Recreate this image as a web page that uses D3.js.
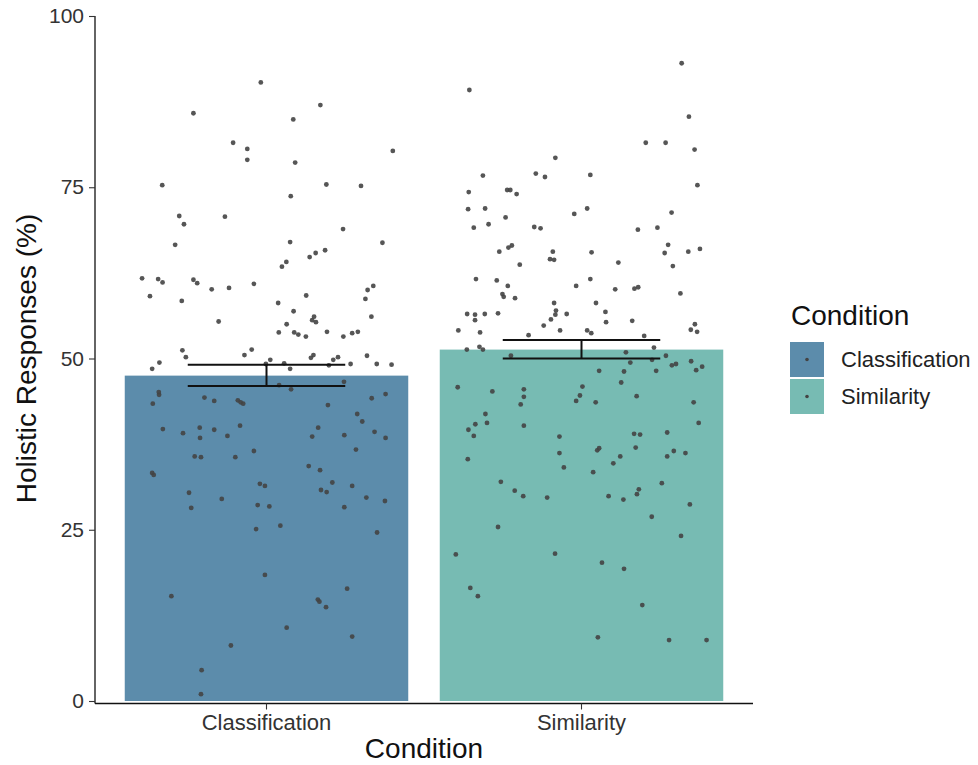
<!DOCTYPE html>
<html>
<head>
<meta charset="utf-8">
<script src="https://cdn.jsdelivr.net/npm/d3@7"></script>
<style>
  body { margin: 0; background: #fff; }
  svg { font-family: "Liberation Sans", Arial, sans-serif; }
</style>
</head>
<body>
<div id="chart"></div>
<script>
// categories and summary values
const CATEGORIES = ["Classification", "Similarity"];
const MEANS = [47.5, 51.3];
const ERR_LOW = [46.0, 50.0];
const ERR_HIGH = [49.1, 52.7];
const COLORS = ["#5c8cab", "#77bbb3"];
const Y_TICKS = [0, 25, 50, 75, 100];

// individual participants: [jitter offset (band steps), value %]
const CLASSIFICATION_POINTS = [
  [-0.018, 90.3], [0.171, 87.0], [-0.232, 85.8], [0.085, 84.9], [-0.106, 81.5],
  [-0.061, 80.6], [-0.061, 79.0], [0.091, 78.6], [0.401, 80.3], [-0.331, 75.3],
  [0.190, 75.4], [0.300, 75.2], [0.077, 73.7], [-0.277, 70.8], [-0.262, 69.6],
  [-0.132, 70.7], [0.243, 68.9], [-0.290, 66.6], [0.075, 67.0], [0.368, 66.9],
  [0.186, 65.8], [0.156, 65.4], [0.137, 64.8], [0.063, 64.1], [0.049, 63.4],
  [-0.395, 61.7], [-0.344, 61.6], [-0.330, 61.1], [-0.232, 61.5], [-0.220, 61.0],
  [-0.174, 60.1], [-0.119, 60.3], [-0.040, 60.9], [-0.370, 59.1], [-0.269, 58.4],
  [0.037, 58.1], [0.126, 59.2], [0.321, 60.0], [0.339, 60.6], [0.314, 58.7],
  [0.086, 56.9], [-0.152, 55.4], [0.064, 55.0], [0.151, 56.1], [0.145, 55.6],
  [0.157, 55.3], [0.333, 56.1], [0.039, 53.8], [0.088, 53.8], [0.101, 53.5],
  [0.125, 53.2], [0.192, 53.9], [0.244, 53.2], [0.272, 53.7], [0.290, 53.9],
  [-0.267, 51.2], [-0.256, 50.2], [-0.070, 50.5], [-0.047, 51.3], [-0.363, 48.5],
  [-0.340, 49.4], [-0.002, 49.2], [0.012, 49.8], [0.056, 49.3], [0.075, 48.5],
  [0.141, 50.1], [0.149, 50.5], [0.198, 49.0], [0.212, 49.8], [0.227, 50.2],
  [0.267, 49.2], [0.319, 50.4], [0.350, 49.2], [0.397, 49.1], [0.246, 46.6],
  [0.040, 46.1], [0.078, 45.5], [-0.342, 45.1], [-0.341, 44.7], [-0.361, 43.4],
  [-0.197, 44.3], [-0.166, 43.8], [-0.091, 43.9], [-0.082, 43.6], [-0.074, 43.4],
  [0.195, 43.2], [0.334, 44.2], [0.378, 44.8], [0.288, 41.9], [0.304, 40.8],
  [-0.329, 39.7], [-0.265, 39.1], [-0.212, 39.9], [-0.211, 38.4], [-0.166, 39.6],
  [-0.124, 38.7], [-0.084, 40.2], [0.164, 39.9], [0.145, 38.6], [0.247, 38.8],
  [0.343, 39.3], [0.378, 38.4], [-0.228, 35.7], [-0.208, 35.6], [-0.099, 35.6],
  [-0.040, 36.5], [0.284, 36.7], [-0.363, 33.3], [-0.358, 33.0], [0.134, 34.3],
  [0.170, 33.7], [-0.021, 31.7], [-0.005, 31.4], [0.209, 31.9], [0.272, 31.4],
  [-0.246, 30.4], [-0.142, 29.5], [-0.239, 28.2], [-0.028, 28.6], [0.009, 28.4],
  [0.173, 30.8], [0.191, 30.5], [0.317, 29.7], [0.376, 29.2], [0.247, 28.3],
  [-0.033, 25.1], [0.044, 25.6], [0.351, 24.6], [-0.005, 18.4], [-0.302, 15.3],
  [0.256, 16.4], [0.163, 14.8], [0.168, 14.5], [0.189, 13.7], [0.064, 10.7],
  [0.272, 9.4], [-0.113, 8.1], [-0.206, 4.5], [-0.208, 1.0]
];

const SIMILARITY_POINTS = [
  [0.318, 93.1], [-0.356, 89.2], [0.341, 85.3], [0.204, 81.5], [0.267, 81.5],
  [0.359, 80.5], [-0.083, 79.3], [-0.313, 76.7], [-0.145, 77.0], [-0.116, 76.5],
  [0.028, 76.8], [0.368, 75.3], [-0.358, 74.3], [-0.236, 74.6], [-0.226, 74.6],
  [-0.206, 74.0], [-0.360, 71.8], [-0.306, 71.9], [-0.241, 70.6], [-0.023, 71.1],
  [0.018, 71.9], [0.286, 71.3], [-0.342, 69.1], [-0.295, 69.6], [-0.150, 69.2],
  [-0.130, 69.0], [0.179, 68.8], [0.241, 69.1], [-0.261, 65.6], [-0.232, 66.2],
  [-0.221, 66.5], [-0.196, 63.7], [-0.091, 65.6], [-0.100, 64.5], [-0.087, 64.4],
  [0.032, 65.5], [0.117, 64.0], [0.275, 66.6], [0.264, 65.4], [0.339, 65.6],
  [0.376, 66.0], [0.290, 63.5], [-0.335, 61.6], [-0.269, 61.4], [0.028, 61.6],
  [-0.234, 60.6], [-0.251, 59.4], [-0.247, 59.0], [-0.211, 58.8], [-0.017, 60.6],
  [0.107, 60.1], [0.168, 60.2], [0.180, 60.4], [0.314, 59.5], [-0.363, 56.5],
  [-0.338, 56.4], [-0.338, 55.6], [-0.307, 56.5], [-0.265, 56.6], [-0.087, 58.1],
  [-0.081, 57.0], [-0.083, 56.4], [-0.097, 55.7], [-0.047, 56.5], [0.046, 58.1],
  [0.076, 56.8], [0.078, 55.3], [0.161, 55.5], [-0.391, 54.1], [-0.322, 53.8],
  [-0.120, 54.8], [-0.068, 54.1], [0.018, 54.1], [0.031, 53.7], [-0.168, 53.4],
  [0.199, 53.3], [0.360, 55.0], [0.347, 54.2], [0.367, 53.9], [-0.364, 51.3],
  [-0.324, 51.7], [-0.313, 51.3], [-0.224, 50.4], [0.230, 51.6], [0.141, 50.9],
  [0.155, 49.4], [0.224, 49.8], [0.268, 50.4], [0.287, 49.0], [0.300, 49.2],
  [0.348, 49.6], [0.364, 48.3], [0.383, 48.8], [0.237, 48.2], [0.056, 48.2],
  [0.135, 48.1], [0.126, 46.5], [-0.393, 45.8], [-0.283, 45.2], [-0.183, 45.5],
  [-0.183, 44.4], [-0.193, 43.3], [0.003, 45.9], [-0.005, 44.6], [-0.017, 43.8],
  [0.045, 43.6], [0.175, 44.5], [0.356, 43.6], [-0.305, 41.9], [-0.300, 40.6],
  [-0.337, 40.4], [-0.359, 39.6], [-0.342, 38.7], [-0.183, 40.2], [0.372, 40.6],
  [0.167, 39.0], [0.186, 38.9], [0.272, 39.2], [-0.070, 38.6], [-0.070, 36.2],
  [0.056, 36.9], [0.050, 36.6], [0.172, 37.0], [0.123, 35.7], [0.101, 34.7],
  [0.293, 36.5], [0.272, 35.7], [0.330, 36.2], [-0.361, 35.3], [-0.056, 34.1],
  [0.037, 33.4], [-0.256, 32.0], [0.255, 31.8], [-0.212, 30.7], [-0.185, 29.9],
  [-0.109, 29.7], [0.086, 29.9], [0.133, 29.4], [0.182, 30.9], [0.176, 30.2],
  [0.344, 28.7], [0.223, 26.9], [-0.265, 25.4], [0.316, 24.1], [-0.399, 21.4],
  [-0.084, 21.5], [0.065, 20.2], [0.135, 19.3], [-0.353, 16.5], [-0.329, 15.3],
  [0.193, 14.0], [0.052, 9.3], [0.278, 8.9], [0.397, 8.9]
];

const POINTS = [CLASSIFICATION_POINTS, SIMILARITY_POINTS];

// LAYOUT
const WIDTH = 978, HEIGHT = 765;
const PANEL = { left: 95, right: 753, top: 16, bottom: 701 };
const FONT = "Liberation Sans, Arial, sans-serif";

const SVG = d3.select("#chart").append("svg")
  .attr("width", WIDTH)
  .attr("height", HEIGHT);

const X = d3.scaleBand()
  .domain(CATEGORIES)
  .range([109, 739])
  .paddingInner(0.1)
  .paddingOuter(0.05);

const Y = d3.scaleLinear()
  .domain([0, 100])
  .range([PANEL.bottom, PANEL.top]);

const center = c => X(c) + X.bandwidth() / 2;

// BARS
SVG.append("g").selectAll("rect")
  .data(CATEGORIES)
  .join("rect")
  .attr("x", d => X(d))
  .attr("width", X.bandwidth())
  .attr("y", (d, i) => Y(MEANS[i]))
  .attr("height", (d, i) => Y(0) - Y(MEANS[i]))
  .attr("fill", (d, i) => COLORS[i]);

// POINTS
CATEGORIES.forEach((cat, i) => {
  SVG.append("g").selectAll("circle")
    .data(POINTS[i])
    .join("circle")
    .attr("cx", d => center(cat) + d[0] * X.step())
    .attr("cy", d => Y(d[1]))
    .attr("r", 2.4)
    .attr("fill", "#444")
    .attr("fill-opacity", 0.9);
});

// ERROR BARS
const errG = SVG.append("g")
  .attr("stroke", "#111")
  .attr("stroke-width", 2)
  .attr("fill", "none");
CATEGORIES.forEach((cat, i) => {
  const cx = center(cat);
  const hw = X.step() * 0.25;
  errG.append("line").attr("x1", cx - hw).attr("x2", cx + hw)
    .attr("y1", Y(ERR_HIGH[i])).attr("y2", Y(ERR_HIGH[i]));
  errG.append("line").attr("x1", cx - hw).attr("x2", cx + hw)
    .attr("y1", Y(ERR_LOW[i])).attr("y2", Y(ERR_LOW[i]));
  errG.append("line").attr("x1", cx).attr("x2", cx)
    .attr("y1", Y(ERR_HIGH[i])).attr("y2", Y(ERR_LOW[i]));
});

// AXES
const yAxis = SVG.append("g")
  .attr("transform", `translate(${PANEL.left},0)`)
  .call(d3.axisLeft(Y).tickValues(Y_TICKS).tickSize(6).tickPadding(5).tickSizeOuter(0));
yAxis.select(".domain").attr("d", `M0,${PANEL.top}V${PANEL.bottom + 2.5}`).attr("stroke", "#111").attr("stroke-width", 1.3);
yAxis.selectAll(".tick line").attr("stroke", "#333").attr("stroke-width", 1.1);
yAxis.selectAll(".tick text").attr("font-size", 21).attr("fill", "#333")
  .attr("font-family", FONT);

const xAxis = SVG.append("g")
  .attr("transform", `translate(0,${PANEL.bottom + 2.5})`)
  .call(d3.axisBottom(X).tickSize(6).tickPadding(5).tickSizeOuter(0));
xAxis.select(".domain").attr("d", `M${PANEL.left},0H${PANEL.right}`).attr("stroke", "#111").attr("stroke-width", 1.3);
xAxis.selectAll(".tick line").attr("stroke", "#333").attr("stroke-width", 1.1);
xAxis.selectAll(".tick text").attr("font-size", 22).attr("fill", "#333")
  .attr("font-family", FONT);

// AXIS TITLES
SVG.append("text")
  .attr("x", (PANEL.left + PANEL.right) / 2)
  .attr("y", 758)
  .attr("text-anchor", "middle")
  .attr("font-size", 28)
  .attr("fill", "#111")
  .text("Condition");

SVG.append("text")
  .attr("transform", `translate(36,${(PANEL.top + PANEL.bottom) / 2}) rotate(-90)`)
  .attr("text-anchor", "middle")
  .attr("font-size", 28)
  .attr("fill", "#111")
  .text("Holistic Responses (%)");

// LEGEND
const legend = SVG.append("g").attr("transform", "translate(790,0)");
legend.append("text")
  .attr("x", 1).attr("y", 325)
  .attr("font-size", 28)
  .attr("fill", "#111")
  .text("Condition");

CATEGORIES.forEach((cat, i) => {
  const y0 = 342 + i * 37;
  legend.append("rect")
    .attr("x", 0).attr("y", y0)
    .attr("width", 34).attr("height", 35)
    .attr("fill", COLORS[i]);
  legend.append("circle")
    .attr("cx", 17).attr("cy", y0 + 17.5)
    .attr("r", 1.8)
    .attr("fill", "#444");
  legend.append("text")
    .attr("x", 51).attr("y", y0 + 25)
    .attr("font-size", 22)
    .attr("fill", "#222")
    .text(cat);
});
</script>
</body>
</html>
